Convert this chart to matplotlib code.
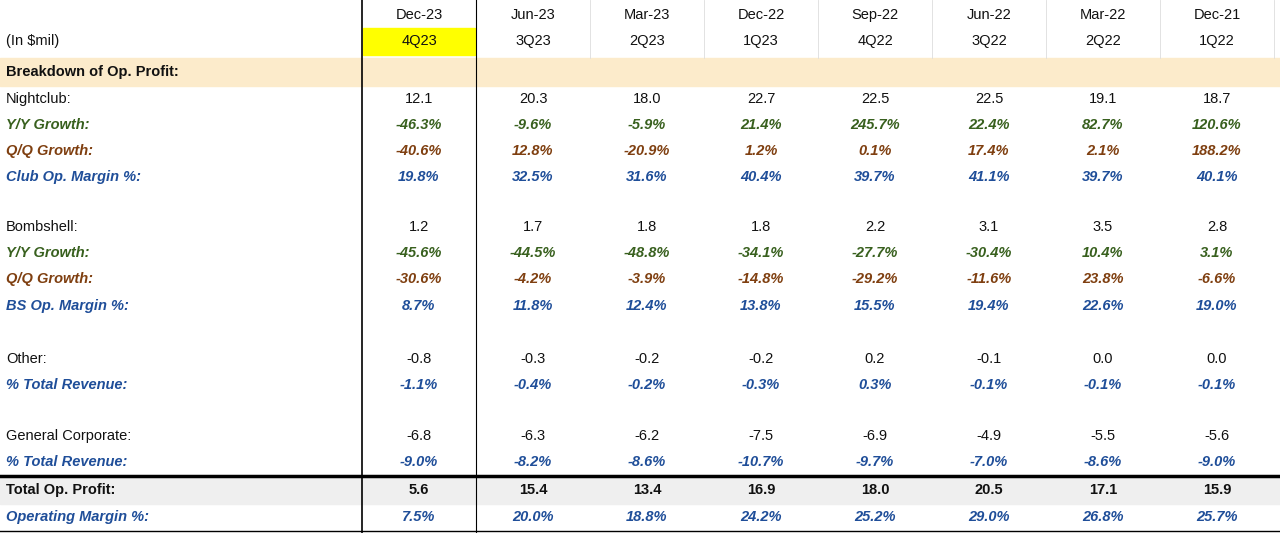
import matplotlib.pyplot as plt
from matplotlib.patches import Rectangle

plt.rcParams["font.family"] = "Liberation Sans"

months = ["Dec-23", "Jun-23", "Mar-23", "Dec-22", "Sep-22", "Jun-22", "Mar-22", "Dec-21"]
quarters = ["4Q23", "3Q23", "2Q23", "1Q23", "4Q22", "3Q22", "2Q22", "1Q22"]

nightclub = ["12.1", "20.3", "18.0", "22.7", "22.5", "22.5", "19.1", "18.7"]
nc_yy = ["-46.3%", "-9.6%", "-5.9%", "21.4%", "245.7%", "22.4%", "82.7%", "120.6%"]
nc_qq = ["-40.6%", "12.8%", "-20.9%", "1.2%", "0.1%", "17.4%", "2.1%", "188.2%"]
nc_margin = ["19.8%", "32.5%", "31.6%", "40.4%", "39.7%", "41.1%", "39.7%", "40.1%"]
bombshell = ["1.2", "1.7", "1.8", "1.8", "2.2", "3.1", "3.5", "2.8"]
bs_yy = ["-45.6%", "-44.5%", "-48.8%", "-34.1%", "-27.7%", "-30.4%", "10.4%", "3.1%"]
bs_qq = ["-30.6%", "-4.2%", "-3.9%", "-14.8%", "-29.2%", "-11.6%", "23.8%", "-6.6%"]
bs_margin = ["8.7%", "11.8%", "12.4%", "13.8%", "15.5%", "19.4%", "22.6%", "19.0%"]
other = ["-0.8", "-0.3", "-0.2", "-0.2", "0.2", "-0.1", "0.0", "0.0"]
other_rev = ["-1.1%", "-0.4%", "-0.2%", "-0.3%", "0.3%", "-0.1%", "-0.1%", "-0.1%"]
corp = ["-6.8", "-6.3", "-6.2", "-7.5", "-6.9", "-4.9", "-5.5", "-5.6"]
corp_rev = ["-9.0%", "-8.2%", "-8.6%", "-10.7%", "-9.7%", "-7.0%", "-8.6%", "-9.0%"]
total = ["5.6", "15.4", "13.4", "16.9", "18.0", "20.5", "17.1", "15.9"]
op_margin = ["7.5%", "20.0%", "18.8%", "24.2%", "25.2%", "29.0%", "26.8%", "25.7%"]

BLACK, GREEN, BROWN, BLUE = "#111111", "#38601E", "#7F3F10", "#1F4E99"

# (label, values, y, color, italic, bold)
rows = [
    ("Nightclub:", nightclub, 99, BLACK, False, False),
    ("Y/Y Growth:", nc_yy, 125, GREEN, True, True),
    ("Q/Q Growth:", nc_qq, 151, BROWN, True, True),
    ("Club Op. Margin %:", nc_margin, 177, BLUE, True, True),
    ("Bombshell:", bombshell, 227, BLACK, False, False),
    ("Y/Y Growth:", bs_yy, 253, GREEN, True, True),
    ("Q/Q Growth:", bs_qq, 279, BROWN, True, True),
    ("BS Op. Margin %:", bs_margin, 306, BLUE, True, True),
    ("Other:", other, 359, BLACK, False, False),
    ("% Total Revenue:", other_rev, 385, BLUE, True, True),
    ("General Corporate:", corp, 436, BLACK, False, False),
    ("% Total Revenue:", corp_rev, 462, BLUE, True, True),
    ("Total Op. Profit:", total, 490, BLACK, False, True),
    ("Operating Margin %:", op_margin, 517, BLUE, True, True),
]

fig = plt.figure(figsize=(12.8, 5.33), dpi=100)
ax = fig.add_axes([0, 0, 1, 1])
ax.set_xlim(0, 1280)
ax.set_ylim(533, 0)
ax.axis("off")

x0, cw = 362, 114
cx = [x0 + cw * i + cw / 2 for i in range(len(months))]

# backgrounds
ax.add_patch(Rectangle((0, 58), 1280, 28, color="#FCEBCB", zorder=0))
ax.add_patch(Rectangle((0, 477), 1280, 27, color="#EFEFEF", zorder=0))
ax.add_patch(Rectangle((363, 28), 112, 27, color="#FFFF00", zorder=0))

# lines
ax.plot([362, 362], [0, 533], color="black", lw=1.2)
ax.plot([476, 476], [0, 533], color="black", lw=0.8)
for i in range(2, 9):
    ax.plot([x0 + cw * i] * 2, [0, 58], color="#DDDDDD", lw=0.6)
ax.plot([0, 1280], [476, 476], color="black", lw=2.5)
ax.plot([0, 1280], [531, 531], color="black", lw=1)

fs = 10.5
ax.text(6, 41, "(In $mil)", fontsize=fs, va="center", color=BLACK)
ax.text(6, 72, "Breakdown of Op. Profit:", fontsize=fs, va="center", weight="bold", color=BLACK)
for x, m, q in zip(cx, months, quarters):
    ax.text(x, 15, m, fontsize=fs, ha="center", va="center", color=BLACK)
    ax.text(x, 41, q, fontsize=fs, ha="center", va="center", color=BLACK)

for label, vals, y, col, ital, bold in rows:
    st = "italic" if ital else "normal"
    wt = "bold" if bold else "normal"
    ax.text(6, y, label, fontsize=fs, va="center", color=col, style=st, weight=wt)
    for x, v in zip(cx, vals):
        ax.text(x, y, v, fontsize=fs, ha="center", va="center", color=col, style=st, weight=wt)

fig.savefig("out.png", dpi=100)
